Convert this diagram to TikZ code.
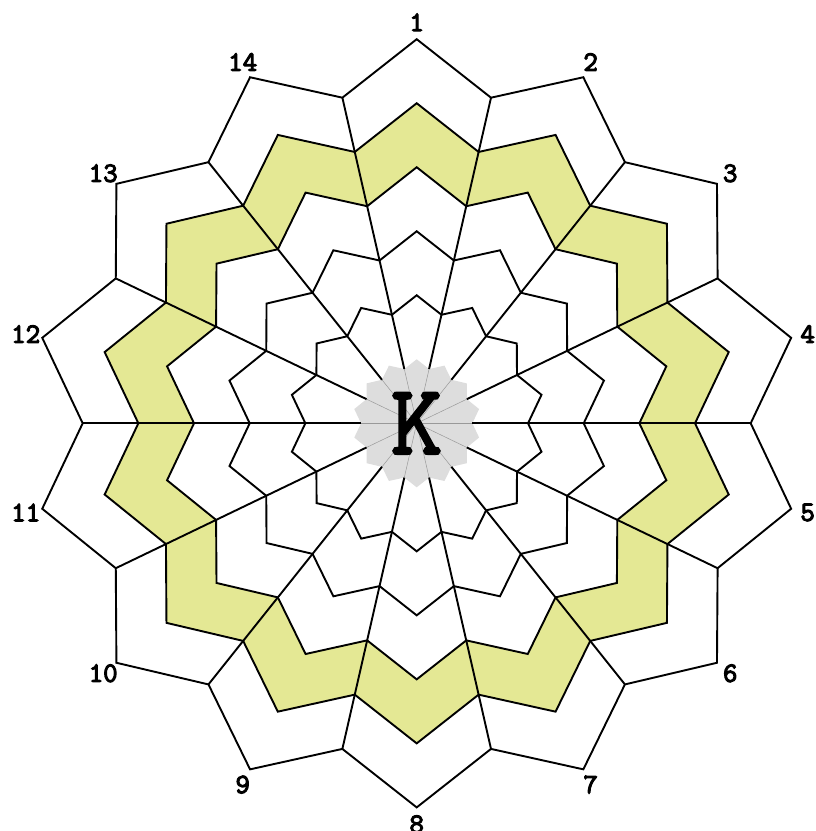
\documentclass[tikz,border=0pt]{standalone}
\usepackage{fontspec}
\newfontfamily\labfont[FakeBold=4]{Latin Modern Mono}
\newfontfamily\hubfont[FakeBold=2.5]{Latin Modern Mono}
\definecolor{band}{RGB}{228,232,148}
\definecolor{hubgray}{RGB}{221,221,221}
\tikzset{
  ringline/.style={draw=black, line width=1.9pt},
  hubline/.style={draw=black!40, line width=0.5pt},
  numlabel/.style={font=\labfont\fontsize{28}{28}\selectfont, inner sep=0pt}
}
\begin{document}
\begin{tikzpicture}[x=1pt,y=1pt]
\useasboundingbox (-416.7,-407.7) rectangle (398.3,423.3);
% yellow band between ring 4 and ring 5
\fill[band, even odd rule]
  plot[samples at={0,...,27}, variable=\t] ({\t*180/14}:{278.33*(1+0.15*mod(\t,2))}) -- cycle
  plot[samples at={0,...,27}, variable=\t] ({\t*180/14}:{222.67*(1+0.15*mod(\t,2))}) -- cycle;
% gray hub star
\fill[hubgray]
  plot[samples at={0,...,27}, variable=\t] ({\t*180/14}:{55.67*(1+0.15*mod(\t,2))}) -- cycle;
\foreach \a in {0,...,13} \draw[hubline] (0,0) -- ({\a*360/14}:55.67);
% rings
\foreach \r in {111.33,167,222.67,278.33,334}
  \draw[ringline, line join=miter]
  plot[samples at={0,...,27}, variable=\t] ({\t*180/14}:{\r*(1+0.15*mod(\t,2))}) -- cycle;
% spokes
\foreach \a in {0,...,13} \draw[ringline] ({\a*360/14}:55.67) -- ({\a*360/14}:334);
% centre letter
\node[inner sep=0pt, font=\hubfont\fontsize{100}{100}\selectfont] (hub) at (0,0) {K};
% sector numbers
\foreach \i [evaluate=\i as \ang using 90-(\i-1)*360/14] in {1,...,14}
  \node[numlabel] (l\i) at (\ang:401) {\i};
\end{tikzpicture}
\end{document}
